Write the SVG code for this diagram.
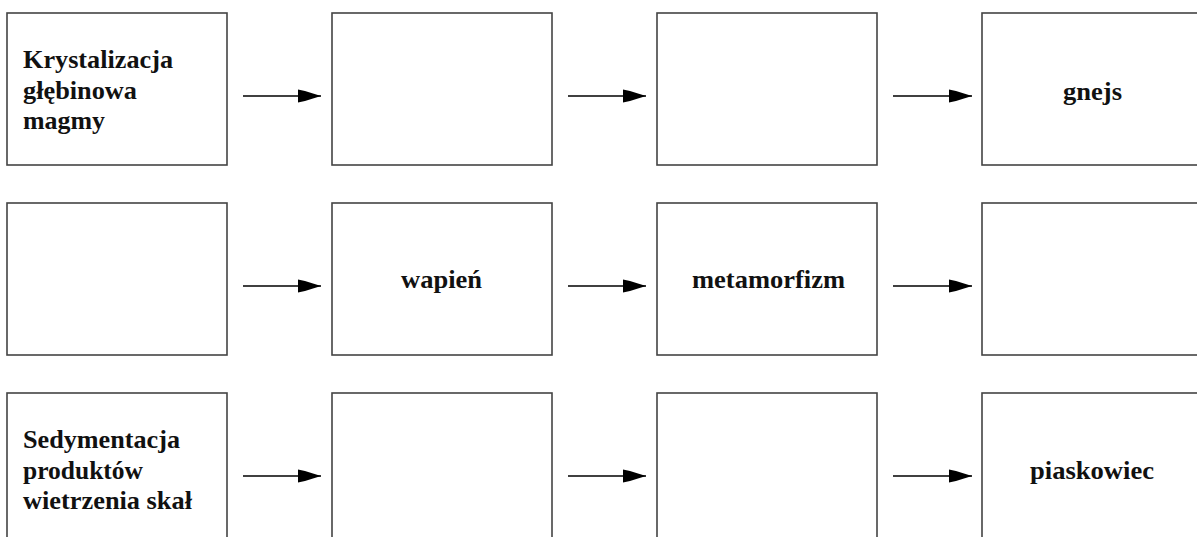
<svg xmlns="http://www.w3.org/2000/svg" xmlns:xlink="http://www.w3.org/1999/xlink" width="1197" height="537" viewBox="0 0 1197 537">
<style>
.box{fill:#fff;stroke:#444;stroke-width:1.6}
.t{font-family:"Liberation Serif","Times New Roman",serif;font-weight:bold;font-size:25px;fill:#111}
.c{text-anchor:middle}
.ln{stroke:#000;stroke-width:1.3;fill:none}
</style>
<defs>
<marker id="ah" markerUnits="userSpaceOnUse" markerWidth="26" markerHeight="16" refX="23" refY="8" orient="auto">
<path d="M0,1.5 L7,3 L23,8 L7,13 L0,14.5 Z" fill="#000"/>
</marker>
</defs>
<rect width="1197" height="537" fill="#fff"/>
<g id="n11"><rect class="box" x="7" y="13" width="220" height="152"/>
<text class="t" x="23" y="68" textLength="150" lengthAdjust="spacingAndGlyphs">Krystalizacja</text>
<text class="t" x="23" y="99" textLength="114" lengthAdjust="spacingAndGlyphs">głębinowa</text>
<text class="t" x="23" y="129" textLength="82" lengthAdjust="spacingAndGlyphs">magmy</text></g>
<g id="n12"><rect class="box" x="332" y="13" width="220" height="152"/></g>
<g id="n13"><rect class="box" x="657" y="13" width="220" height="152"/></g>
<g id="n14"><rect class="box" x="982" y="13" width="230" height="152"/>
<text class="t c" x="1092.5" y="100" textLength="59" lengthAdjust="spacingAndGlyphs">gnejs</text></g>
<g id="n21"><rect class="box" x="7" y="203" width="220" height="152"/></g>
<g id="n22"><rect class="box" x="332" y="203" width="220" height="152"/>
<text class="t c" x="441.5" y="288" textLength="81" lengthAdjust="spacingAndGlyphs">wapień</text></g>
<g id="n23"><rect class="box" x="657" y="203" width="220" height="152"/>
<text class="t c" x="768.5" y="288" textLength="153" lengthAdjust="spacingAndGlyphs">metamorfizm</text></g>
<g id="n24"><rect class="box" x="982" y="203" width="230" height="152"/></g>
<g id="n31"><rect class="box" x="7" y="393" width="220" height="160"/>
<text class="t" x="23" y="448" textLength="157" lengthAdjust="spacingAndGlyphs">Sedymentacja</text>
<text class="t" x="23" y="479" textLength="120" lengthAdjust="spacingAndGlyphs">produktów</text>
<text class="t" x="23" y="509" textLength="169" lengthAdjust="spacingAndGlyphs">wietrzenia skał</text></g>
<g id="n32"><rect class="box" x="332" y="393" width="220" height="160"/></g>
<g id="n33"><rect class="box" x="657" y="393" width="220" height="160"/></g>
<g id="n34"><rect class="box" x="982" y="393" width="230" height="160"/>
<text class="t c" x="1092" y="479" textLength="124" lengthAdjust="spacingAndGlyphs">piaskowiec</text></g>
<g id="connectors">
<line class="ln" x1="243" y1="96" x2="321" y2="96" marker-end="url(#ah)"/>
<line class="ln" x1="568" y1="96" x2="646" y2="96" marker-end="url(#ah)"/>
<line class="ln" x1="893" y1="96" x2="972" y2="96" marker-end="url(#ah)"/>
<line class="ln" x1="243" y1="286" x2="321" y2="286" marker-end="url(#ah)"/>
<line class="ln" x1="568" y1="286" x2="646" y2="286" marker-end="url(#ah)"/>
<line class="ln" x1="893" y1="286" x2="972" y2="286" marker-end="url(#ah)"/>
<line class="ln" x1="243" y1="476" x2="321" y2="476" marker-end="url(#ah)"/>
<line class="ln" x1="568" y1="476" x2="646" y2="476" marker-end="url(#ah)"/>
<line class="ln" x1="893" y1="476" x2="972" y2="476" marker-end="url(#ah)"/>
</g>
</svg>
